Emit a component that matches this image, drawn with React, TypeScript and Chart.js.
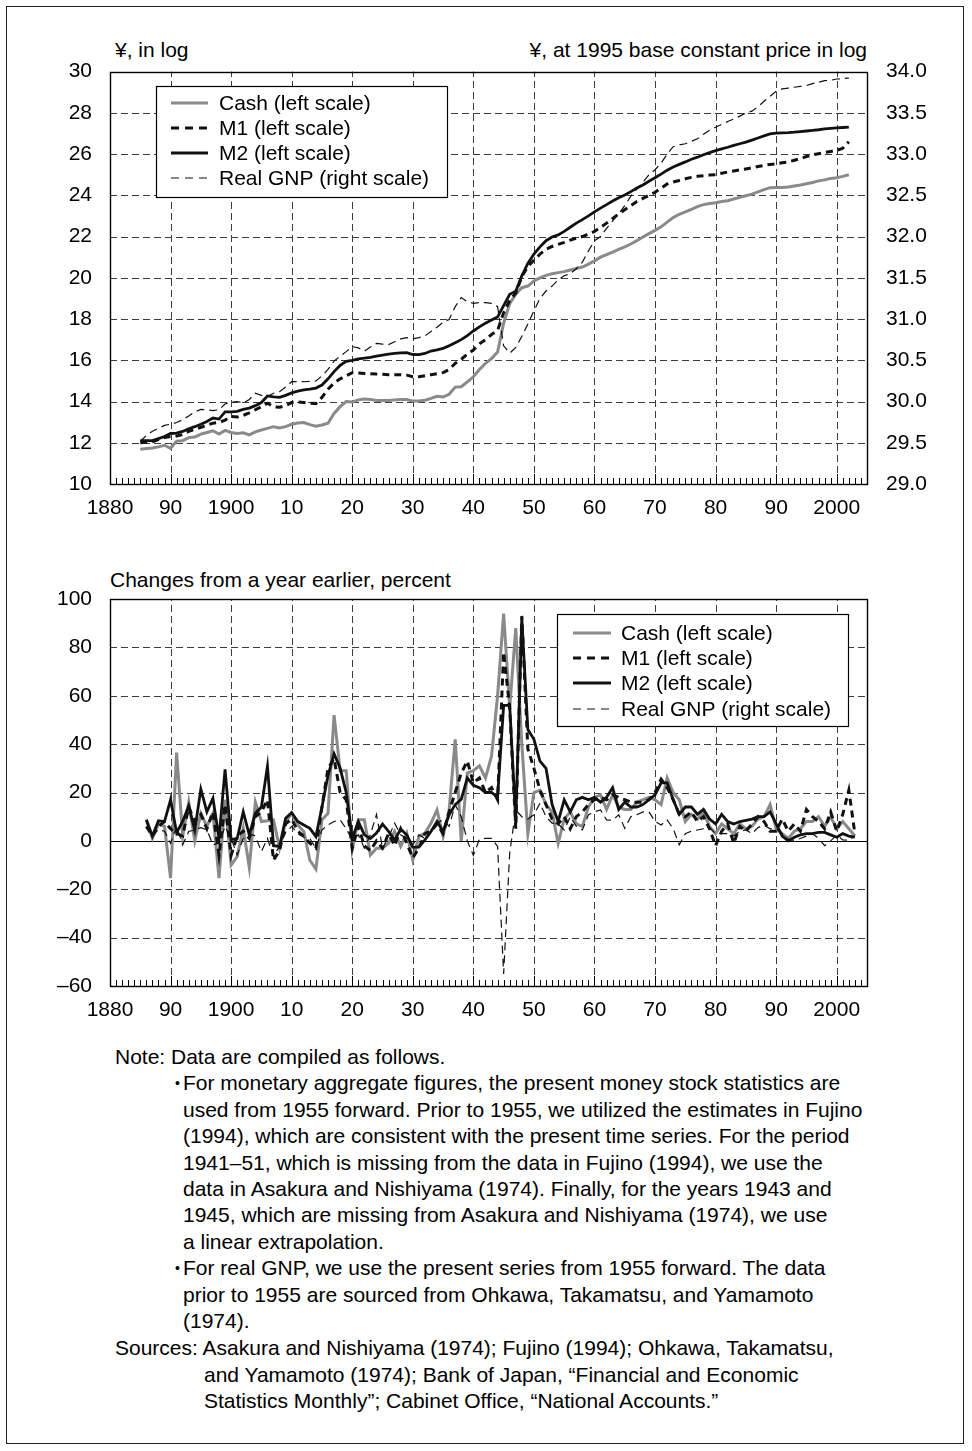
import React, { useEffect, useRef } from "react";
import { Chart, registerables } from "chart.js";

Chart.register(...registerables);

const FONT = "'Liberation Sans', Arial, Helvetica, sans-serif";

// ---------- DATA ----------
const levelStartYear = 1885;
const growthStartYear = 1886;
const xTickLabels = ["1880", "90", "1900", "10", "20", "30", "40", "50", "60", "70", "80", "90", "2000"];

// log levels (left scale), 1885-2002
const cashLevel = [
  11.68, 11.72, 11.75, 11.8, 11.88,
  11.73, 12.08, 12.1, 12.25, 12.28, 12.42, 12.5, 12.58, 12.42, 12.6,
  12.5, 12.45, 12.48, 12.38, 12.53, 12.62, 12.7, 12.78, 12.72, 12.78,
  12.9, 12.96, 12.98, 12.88, 12.8, 12.86, 12.95, 13.42, 13.75, 14.0,
  13.98, 14.08, 14.12, 14.1, 14.05, 14.05, 14.05, 14.08, 14.1, 14.1,
  14.02, 14.03, 14.06, 14.15, 14.25, 14.22, 14.35, 14.7, 14.72, 14.95,
  15.2, 15.55, 15.85, 16.08, 16.4, 17.8, 18.75, 19.2, 19.52, 19.6,
  19.85, 20.0, 20.12, 20.2, 20.25, 20.3, 20.38, 20.45, 20.52, 20.66,
  20.82, 21.0, 21.12, 21.25, 21.38, 21.5, 21.64, 21.8, 21.98, 22.14,
  22.3, 22.47, 22.7, 22.92, 23.08, 23.2, 23.32, 23.45, 23.55, 23.6,
  23.64, 23.7, 23.74, 23.82, 23.9, 23.98, 24.06, 24.17, 24.28, 24.37,
  24.38, 24.38, 24.4, 24.45, 24.5, 24.56, 24.62, 24.7, 24.75, 24.82,
  24.85, 24.92, 25.0,
];
const m1Level = [
  12.0, 12.02, 12.05, 12.15, 12.25,
  12.3, 12.33, 12.4, 12.55, 12.65, 12.75, 12.85, 12.95, 12.98, 13.1,
  13.27, 13.25, 13.33, 13.45, 13.6, 13.75, 13.92, 13.75, 13.72, 13.8,
  13.95, 13.98, 13.95, 13.92, 13.9, 14.2, 14.6, 14.9, 15.1, 15.25,
  15.4, 15.38, 15.36, 15.35, 15.33, 15.32, 15.3, 15.3, 15.3, 15.28,
  15.2, 15.2, 15.25, 15.3, 15.35, 15.4, 15.55, 15.85, 16.05, 16.3,
  16.5, 16.8, 17.0, 17.25, 17.45, 18.3, 18.9, 19.25, 20.05, 20.55,
  20.85, 21.15, 21.38, 21.52, 21.62, 21.72, 21.83, 21.92, 22.0, 22.12,
  22.25, 22.45, 22.65, 22.88, 23.1, 23.3, 23.5, 23.7, 23.85, 24.0,
  24.15, 24.35, 24.55, 24.65, 24.72, 24.8, 24.87, 24.92, 24.95, 24.98,
  25.0, 25.07, 25.13, 25.18, 25.23, 25.28, 25.33, 25.4, 25.45, 25.5,
  25.52, 25.58, 25.62, 25.7, 25.78, 25.88, 25.96, 26.02, 26.08, 26.13,
  26.18, 26.28, 26.6,
];
const m2Level = [
  12.1, 12.1, 12.1, 12.2, 12.3,
  12.45, 12.47, 12.55, 12.68, 12.78, 12.9, 13.03, 13.2, 13.15, 13.5,
  13.5, 13.52, 13.62, 13.68, 13.8, 13.95, 14.27, 14.23, 14.2, 14.3,
  14.42, 14.5, 14.56, 14.6, 14.65, 14.8, 15.1, 15.45, 15.75, 15.95,
  16.0, 16.07, 16.1, 16.14, 16.2, 16.25, 16.3, 16.33, 16.36, 16.37,
  16.28, 16.27, 16.33, 16.45, 16.5, 16.58, 16.7, 16.85, 17.0, 17.2,
  17.42, 17.62, 17.8, 17.95, 18.1, 18.65, 19.2, 19.35, 20.1, 20.7,
  21.15, 21.5, 21.8, 21.98, 22.08, 22.25, 22.45, 22.65, 22.82, 23.0,
  23.2, 23.38, 23.55, 23.72, 23.88, 24.02, 24.18, 24.35, 24.5, 24.68,
  24.85, 25.03, 25.22, 25.37, 25.5, 25.62, 25.75, 25.85, 25.97, 26.07,
  26.17, 26.25, 26.33, 26.42, 26.5, 26.58, 26.68, 26.78, 26.88, 26.98,
  27.02, 27.03, 27.04, 27.06, 27.09, 27.12, 27.15, 27.18, 27.22, 27.25,
  27.27, 27.29, 27.31,
];
// real GNP, log (right scale), 1885-2002
const gnpLevel = [
  29.515, 29.59, 29.64, 29.675, 29.71,
  29.725, 29.745, 29.78, 29.825, 29.875, 29.905, 29.9, 29.89, 29.9, 29.97,
  29.99, 30.0, 29.98, 30.025, 30.1, 30.075, 30.06, 30.1, 30.12, 30.175,
  30.24, 30.24, 30.24, 30.245, 30.25, 30.31, 30.39, 30.49, 30.55, 30.605,
  30.665, 30.65, 30.61, 30.66, 30.705, 30.695, 30.69, 30.725, 30.76, 30.775,
  30.76, 30.775, 30.795, 30.85, 30.9, 30.96, 30.995, 31.15, 31.26, 31.21,
  31.19, 31.2, 31.2, 31.19, 31.15, 30.675, 30.585, 30.655, 30.79, 30.94,
  31.1, 31.25, 31.34, 31.4, 31.475, 31.525, 31.55, 31.61, 31.69, 31.825,
  31.95, 32.0, 32.1, 32.19, 32.275, 32.375, 32.49, 32.575, 32.66, 32.75,
  32.81, 32.89, 33.0, 33.09, 33.11, 33.125, 33.155, 33.185, 33.24, 33.29,
  33.325, 33.36, 33.395, 33.425, 33.46, 33.5, 33.52, 33.575, 33.64, 33.7,
  33.76, 33.79, 33.8, 33.81, 33.82, 33.83, 33.855, 33.87, 33.89, 33.895,
  33.91, 33.915, 33.92,
];

// year-on-year changes, percent, 1886-2003
const cashGrowth = [
  8.7, 1, 7, 6,
  -15.4, 36.5, 2, 16, 0, 11.4, 6, 11.4, -15.4, 17,
  -10, -6.5, 5.2, -11, 16, 8, 8.3, 8.7, -3, 8,
  11.4, 6.6, 3.9, -8, -11.7, 8.7, 11.4, 52, 29, 29,
  -3.7, 8.7, 8.7, -5.8, -3, -3, -1, 3.9, -2.3, 3.2,
  -7.9, 1.8, 3.2, 7.3, 12.8, 1.8, 12.8, 42, 0, 28,
  29, 31, 26, 35, 60, 94, 55, 88, 40, 3,
  20, 21, 15, 12, -1, 9, 12, 7, 6, 14,
  18, 19, 13, 19, 14, 13, 13, 16, 17, 18,
  17, 15, 26, 20, 17, 8, 11, 9, 12, 6,
  3, 7, 5, 3, 7, 5, 6, 9, 10, 15,
  5, 3, 1, 4, 5, 8, 8, 10, 6, 10,
  5, 8, 5, 2,
];
const m1Growth = [
  6, 2, 6, 8,
  5, 3, 2, 14, 8, 11, 5, 12, -6, 15,
  -6, 2, 4, 1, 10, 12, 17, -8, -4, 7,
  9, 4, 2, -1, -3, 14, 30, 34, 20, 17,
  -3, 6, -2, -4, 0, -3, 3, -2, 5, -1,
  -7, -3, 3, 4, 7, 3, 12, 20, 28, 33,
  24, 26, 20, 22, 17, 78, 55, 5, 93, 38,
  30, 21, 15, 9, 7, 10, 5, 10, 12, 15,
  17, 18, 17, 19, 18, 17, 16, 16, 16, 17,
  20, 25.5, 22, 17, 11, 10, 12, 8, 10, 5,
  -2, 4, 7, -1, 6, 4, 7, 10, 8, 4,
  4, 9, 4, 7, 4, 13, 10, 8, 5, 12,
  4, 11, 21, 3,
];
const m2Growth = [
  8.7, 2, 8.3, 8,
  17, 3.4, 8, 14.5, 4.5, 21.4, 12, 17.6, 1, 29.6,
  0.5, 1, 12, 2.5, 11.4, 14, 30.8, -2, -2.3, 9.4,
  11.7, 8, 6.6, 5.2, 1.8, 14, 27, 36, 30, 20,
  1, 8, 2.5, 1, 3.2, 6.9, 3.9, 0.4, 4.8, 2.5,
  -2.6, -2.6, 0.4, 3.9, 8, 3.9, 10.8, 15, 17.2, 26,
  23, 22, 20, 20, 18, 56, 56, 8, 92, 46,
  42, 33, 30, 15, 8, 17, 12, 17, 18, 17,
  18, 16, 18, 22, 13, 16, 14, 14, 15, 17,
  19, 24, 24, 17, 11, 14, 14, 11, 13, 9,
  7, 11, 8, 7, 8, 8.5, 9, 10, 10, 12,
  7, 2, 0, 1.5, 2.5, 3, 3, 3.5, 3.5, 2.5,
  1.5, 3, 2, 1.5,
];
const gnpGrowth = [
  8, 2.5, 4.5, 4,
  -1, 6, -1.6, 3.9, 4.5, 5.5, 4.5, -1.6, -1, 6,
  1, -5.8, 1, 3, 2, -4.4, 1, -6.5, -2, 3.4,
  6, 3, 1.5, 1, -3, 4.5, 6.6, 8, 8.7, 5,
  0.4, 2.5, -3, 2.5, 11, -3, 1.5, 7.3, 2.5, 1,
  -1.6, 2.5, 1, 3.9, 7.3, 8.7, 6, 15, 10, 0,
  -6, 0.7, 1, 1, -2.3, -55, -5, 12.8, 10, 9,
  10.8, 15.6, 10, 7.3, 7, 4.5, 10, 6, 4.5, 10.8,
  12, 12.8, 8.7, 8.5, 10.8, 5.2, 10, 10.8, 12, 12,
  8, 6.6, 8.7, 5, -1.6, 3, 4, 4.5, 5, 5.5,
  3, 3, 3, 2, 4, 4.5, 3, 5.5, 6.5, 5,
  5, 3, 0.7, 0.2, 1, 2, 3, 1, -2, 0,
  2.4, 0.4, 0.3, 2,
];

const seriesNames = ["Cash (left scale)", "M1 (left scale)", "M2 (left scale)", "Real GNP (right scale)"];

// ---------- STYLES ----------
const CASH_COLOR = "#8a8a8a";
const BLACK = "#111111";
const styles = [
  { color: CASH_COLOR, width: 3, dash: [] as number[], legendDash: [] as number[] },
  { color: BLACK, width: 3, dash: [7, 5], legendDash: [8, 6] },
  { color: BLACK, width: 2.8, dash: [] as number[], legendDash: [] as number[] },
  { color: BLACK, width: 1.2, dash: [8, 5], legendDash: [8, 6] },
];

const toPoints = (start: number, vals: number[]) => vals.map((v, i) => ({ x: start + i, y: v }));

function decorPlugin(opts: {
  id: string;
  zeroLine?: boolean;
  legend: { left: number; top: number; right: number; bottom: number; rows: number[]; lineX0: number; lineX1: number; textX: number };
}) {
  return {
    id: opts.id,
    beforeDatasetsDraw(chart: any) {
      const { ctx, chartArea: a, scales } = chart;
      const xs = scales.x;
      const ys = scales.y;
      ctx.save();
      ctx.strokeStyle = "#3c3c3c";
      ctx.lineWidth = 1;
      ctx.setLineDash([7, 4]);
      for (const t of ys.ticks) {
        if (t.value <= ys.min || t.value >= ys.max) continue;
        if (opts.zeroLine && t.value === 0) continue;
        const py = Math.round(ys.getPixelForValue(t.value)) + 0.5;
        ctx.beginPath();
        ctx.moveTo(a.left, py);
        ctx.lineTo(a.right, py);
        ctx.stroke();
      }
      for (const t of xs.ticks) {
        if (t.value <= xs.min || t.value >= xs.max) continue;
        const px = Math.round(xs.getPixelForValue(t.value)) + 0.5;
        ctx.beginPath();
        ctx.moveTo(px, a.bottom);
        ctx.lineTo(px, a.top);
        ctx.stroke();
      }
      ctx.setLineDash([]);
      if (opts.zeroLine) {
        const py = Math.round(ys.getPixelForValue(0)) + 0.5;
        ctx.strokeStyle = "#000";
        ctx.lineWidth = 1.2;
        ctx.beginPath();
        ctx.moveTo(a.left, py);
        ctx.lineTo(a.right, py);
        ctx.stroke();
      }
      ctx.restore();
    },
    afterDatasetsDraw(chart: any) {
      const { ctx, chartArea: a, scales } = chart;
      const xs = scales.x;
      ctx.save();
      ctx.strokeStyle = "#000";
      ctx.lineWidth = 1.4;
      ctx.setLineDash([]);
      ctx.strokeRect(Math.round(a.left) + 0.5, Math.round(a.top) + 0.5, Math.round(a.right - a.left), Math.round(a.bottom - a.top));
      ctx.lineWidth = 1;
      for (let yr = Math.ceil(xs.min) + 1; yr < xs.max; yr++) {
        const px = Math.round(xs.getPixelForValue(yr)) + 0.5;
        const len = yr % 10 === 0 ? 10 : 6;
        ctx.beginPath();
        ctx.moveTo(px, a.bottom);
        ctx.lineTo(px, a.bottom - len);
        ctx.stroke();
      }
      ctx.restore();
    },
    afterDraw(chart: any) {
      const { ctx } = chart;
      const L = opts.legend;
      ctx.save();
      ctx.fillStyle = "#fff";
      ctx.fillRect(L.left, L.top, L.right - L.left, L.bottom - L.top);
      ctx.strokeStyle = "#000";
      ctx.lineWidth = 1.2;
      ctx.setLineDash([]);
      ctx.strokeRect(L.left + 0.5, L.top + 0.5, L.right - L.left, L.bottom - L.top);
      ctx.font = `21px ${FONT}`;
      ctx.textBaseline = "middle";
      ctx.textAlign = "left";
      seriesNames.forEach((name, i) => {
        const s = styles[i];
        const y = L.rows[i];
        ctx.strokeStyle = s.color;
        ctx.lineWidth = s.width;
        ctx.setLineDash(s.legendDash);
        ctx.beginPath();
        ctx.moveTo(L.lineX0, y);
        ctx.lineTo(L.lineX1, y);
        ctx.stroke();
        ctx.setLineDash([]);
        ctx.fillStyle = "#000";
        ctx.fillText(name, L.textX, y + 1);
      });
      ctx.restore();
    },
  };
}

const tickFont = { family: FONT, size: 21 };

function xScale(height: number) {
  return {
    type: "linear" as const,
    position: "bottom" as const,
    min: 1880,
    max: 2005,
    grid: { display: false, drawTicks: false },
    border: { display: false },
    ticks: {
      stepSize: 10,
      includeBounds: false,
      autoSkip: false,
      maxRotation: 0,
      padding: 12,
      color: "#000",
      font: tickFont,
      callback: (_v: any, i: number) => xTickLabels[i],
    },
    afterFit: (s: any) => {
      s.height = height;
    },
  };
}

function makeTopConfig(): any {
  const datasets = [
    { label: seriesNames[0], data: toPoints(levelStartYear, cashLevel), yAxisID: "y" },
    { label: seriesNames[1], data: toPoints(levelStartYear, m1Level), yAxisID: "y" },
    { label: seriesNames[2], data: toPoints(levelStartYear, m2Level), yAxisID: "y" },
    { label: seriesNames[3], data: toPoints(levelStartYear, gnpLevel), yAxisID: "y2" },
  ].map((d, i) => ({
    ...d,
    borderColor: styles[i].color,
    borderWidth: styles[i].width,
    borderDash: styles[i].dash,
    pointRadius: 0,
    fill: false,
    tension: 0,
    order: 3 - i,
  }));
  return {
    type: "line",
    data: { datasets },
    options: {
      animation: false,
      responsive: false,
      devicePixelRatio: 1,
      layout: { padding: { top: 31, left: 0, right: 0, bottom: 0 } },
      plugins: { legend: { display: false }, tooltip: { enabled: false } },
      scales: {
        x: xScale(46),
        y: {
          position: "left",
          min: 10,
          max: 30,
          grid: { display: false, drawTicks: false },
          border: { display: false },
          ticks: { stepSize: 2, padding: 18, color: "#000", font: tickFont },
          afterFit: (s: any) => {
            s.width = 110;
          },
        },
        y2: {
          position: "right",
          min: 29,
          max: 34,
          grid: { display: false, drawTicks: false },
          border: { display: false },
          ticks: { stepSize: 0.5, padding: 19, color: "#000", font: tickFont, callback: (v: number) => v.toFixed(1) },
          afterFit: (s: any) => {
            s.width = 105;
          },
        },
      },
    },
    plugins: [
      decorPlugin({
        id: "decorTop",
        legend: { left: 156, top: 46, right: 447, bottom: 157, rows: [63, 88, 113, 138], lineX0: 171, lineX1: 208, textX: 219 },
      }),
    ],
  };
}

function makeBottomConfig(): any {
  const datasets = [
    { label: seriesNames[0], data: toPoints(growthStartYear, cashGrowth) },
    { label: seriesNames[1], data: toPoints(growthStartYear, m1Growth) },
    { label: seriesNames[2], data: toPoints(growthStartYear, m2Growth) },
    { label: seriesNames[3], data: toPoints(growthStartYear, gnpGrowth) },
  ].map((d, i) => ({
    ...d,
    borderColor: styles[i].color,
    borderWidth: styles[i].width,
    borderDash: styles[i].dash,
    pointRadius: 0,
    fill: false,
    tension: 0,
    order: 3 - i,
  }));
  return {
    type: "line",
    data: { datasets },
    options: {
      animation: false,
      responsive: false,
      devicePixelRatio: 1,
      layout: { padding: { top: 39, left: 0, right: 105, bottom: 0 } },
      plugins: { legend: { display: false }, tooltip: { enabled: false } },
      scales: {
        x: xScale(54),
        y: {
          position: "left",
          min: -60,
          max: 100,
          grid: { display: false, drawTicks: false },
          border: { display: false },
          ticks: {
            stepSize: 20,
            padding: 18,
            color: "#000",
            font: tickFont,
            callback: (v: number) => (v < 0 ? "\u2013" + Math.abs(v) : String(v)),
          },
          afterFit: (s: any) => {
            s.width = 110;
          },
        },
      },
    },
    plugins: [
      decorPlugin({
        id: "decorBottom",
        zeroLine: true,
        legend: { left: 557, top: 54, right: 848, bottom: 166, rows: [73, 98, 123, 149], lineX0: 573, lineX1: 611, textX: 621 },
      }),
    ],
  };
}

function ChartCanvas(props: { make: () => any; top: number; width: number; height: number }) {
  const ref = useRef<HTMLCanvasElement>(null);
  useEffect(() => {
    const chart = new Chart(ref.current as HTMLCanvasElement, props.make());
    return () => chart.destroy();
  }, []);
  return (
    <canvas
      ref={ref}
      width={props.width}
      height={props.height}
      style={{ position: "absolute", left: 0, top: props.top, width: props.width, height: props.height }}
    />
  );
}

const noteLines: { x: number; y: number; text: string; bullet?: boolean }[] = [
  { x: 115, y: 1057, text: "Note: Data are compiled as follows." },
  { x: 183, y: 1083, text: "For monetary aggregate figures, the present money stock statistics are", bullet: true },
  { x: 183, y: 1110, text: "used from 1955 forward. Prior to 1955, we utilized the estimates in Fujino" },
  { x: 183, y: 1136, text: "(1994), which are consistent with the present time series. For the period" },
  { x: 183, y: 1163, text: "1941\u201351, which is missing from the data in Fujino (1994), we use the" },
  { x: 183, y: 1189, text: "data in Asakura and Nishiyama (1974). Finally, for the years 1943 and" },
  { x: 183, y: 1215, text: "1945, which are missing from Asakura and Nishiyama (1974), we use" },
  { x: 183, y: 1242, text: "a linear extrapolation." },
  { x: 183, y: 1268, text: "For real GNP, we use the present series from 1955 forward. The data", bullet: true },
  { x: 183, y: 1295, text: "prior to 1955 are sourced from Ohkawa, Takamatsu, and Yamamoto" },
  { x: 183, y: 1321, text: "(1974)." },
  { x: 115, y: 1348, text: "Sources: Asakura and Nishiyama (1974); Fujino (1994); Ohkawa, Takamatsu," },
  { x: 204, y: 1375, text: "and Yamamoto (1974); Bank of Japan, \u201cFinancial and Economic" },
  { x: 204, y: 1401, text: "Statistics Monthly\u201d; Cabinet Office, \u201cNational Accounts.\u201d" },
];

export default function App() {
  useEffect(() => {
    document.body.style.margin = "0";
  }, []);
  const label: React.CSSProperties = {
    position: "absolute",
    fontFamily: FONT,
    fontSize: 21,
    lineHeight: "24px",
    color: "#000",
    whiteSpace: "nowrap",
  };
  return (
    <div style={{ position: "relative", width: 972, height: 1451, background: "#fff", overflow: "hidden", margin: 0 }}>
      <div
        style={{
          position: "absolute",
          left: 6,
          top: 6,
          width: 958,
          height: 1438,
          border: "1px solid #222",
          boxSizing: "border-box",
        }}
      />
      <div style={{ ...label, left: 115, top: 38 }}>¥, in log</div>
      <div style={{ ...label, right: 105, top: 38 }}>¥, at 1995 base constant price in log</div>
      <div style={{ ...label, left: 110, top: 568 }}>Changes from a year earlier, percent</div>
      <ChartCanvas make={makeTopConfig} top={40} width={972} height={490} />
      <ChartCanvas make={makeBottomConfig} top={560} width={972} height={480} />
      {noteLines.map((l, i) => (
        <React.Fragment key={i}>
          {l.bullet ? (
            <div style={{ ...label, fontSize: 14, left: l.x - 8, top: l.y - 10, lineHeight: "20px" }}>•</div>
          ) : null}
          <div
            style={{
              ...label,
              fontSize: 21,
              lineHeight: "26px",
              left: l.x,
              top: l.y - 13,
            }}
          >
            {l.text}
          </div>
        </React.Fragment>
      ))}
    </div>
  );
}
